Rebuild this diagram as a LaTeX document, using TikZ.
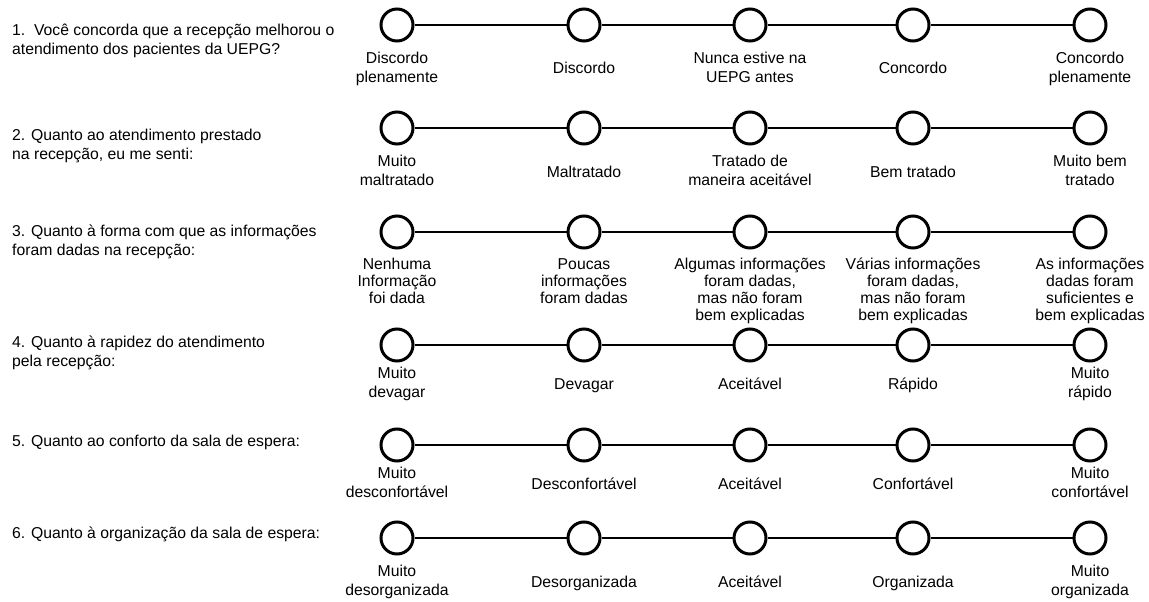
\documentclass[tikz,border=0pt]{standalone}
\usepackage{fontspec}
\setmainfont{Liberation Sans}
\usetikzlibrary{positioning}

\begin{document}
\begin{tikzpicture}[x=1pt, y=-1pt,
  dot/.style={circle, draw=black, line width=3pt, fill=white, minimum size=32pt, inner sep=0pt},
  opt/.style={align=center, inner sep=0pt, minimum height=38pt, font=\fontsize{15.75}{19}\selectfont,
    execute at begin node=\strut, execute at end node=\strut},
  ask/.style={align=left, inner sep=0pt, anchor=north west, font=\fontsize{15.75}{19}\selectfont}]

%─────────────
% Controls
%─────────────
\def\labgap{8.5pt}  % Gap between a circle and its label
\useasboundingbox (0,0) rectangle (1149,602);

%─────────────────────────────────────────────────────────────
% Draws one answer scale: five circles on a line, with labels
%─────────────────────────────────────────────────────────────
\newcommand{\drawScale}[8]{%
  % Circles
  \foreach \k/\xx in {1/397,2/584,3/750,4/913,5/1090} {
    \node[dot] (r#1c\k) at (\xx,#2) {};
  }
  % Line from circle to circle
  \foreach \k [evaluate=\k as \j using int(\k+1)] in {1,...,4} {
    \draw[line width=2pt] (r#1c\k) -- (r#1c\j);
  }
  % Labels below the circles
  \node[opt, below=\labgap of r#1c1, #3] (r#1l1) {#4};
  \node[opt, below=\labgap of r#1c2, #3] (r#1l2) {#5};
  \node[opt, below=\labgap of r#1c3, #3] (r#1l3) {#6};
  \node[opt, below=\labgap of r#1c4, #3] (r#1l4) {#7};
  \node[opt, below=\labgap of r#1c5, #3] (r#1l5) {#8};
}

%─────────────
% Questions
%─────────────
\node[ask] (q1) at (12,24)  {1.\ \ Você concorda que a recepção melhorou o\\atendimento dos pacientes da UEPG?};
\node[ask] (q2) at (12,129) {2. Quanto ao atendimento prestado\\na recepção, eu me senti:};
\node[ask] (q3) at (12,225) {3. Quanto à forma com que as informações\\foram dadas na recepção:};
\node[ask] (q4) at (12,336) {4. Quanto à rapidez do atendimento\\pela recepção:};
\node[ask] (q5) at (12,435) {5. Quanto ao conforto da sala de espera:};
\node[ask] (q6) at (12,527) {6. Quanto à organização da sala de espera:};

%─────────────
% Scales
%─────────────
\drawScale{1}{25}{}{Discordo\\plenamente}{Discordo}{Nunca estive na\\UEPG antes}{Concordo}{Concordo\\plenamente}
\drawScale{2}{128}{}{Muito\\maltratado}{Maltratado}{Tratado de\\maneira aceitável}{Bem tratado}{Muito bem\\tratado}
\drawScale{3}{232}{font=\fontsize{15.75}{17}\selectfont}{Nenhuma\\Informação\\foi dada}{Poucas\\informações\\foram dadas}{Algumas informações\\foram dadas,\\mas não foram\\bem explicadas}{Várias informações\\foram dadas,\\mas não foram\\bem explicadas}{As informações\\dadas foram\\suficientes e\\bem explicadas}
\drawScale{4}{345}{yshift=5pt}{Muito\\devagar}{Devagar}{Aceitável}{Rápido}{Muito\\rápido}
\drawScale{5}{445}{yshift=5pt}{Muito\\desconfortável}{Desconfortável}{Aceitável}{Confortável}{Muito\\confortável}
\drawScale{6}{538}{}{Muito\\desorganizada}{Desorganizada}{Aceitável}{Organizada}{Muito\\organizada}

\end{tikzpicture}
\end{document}
